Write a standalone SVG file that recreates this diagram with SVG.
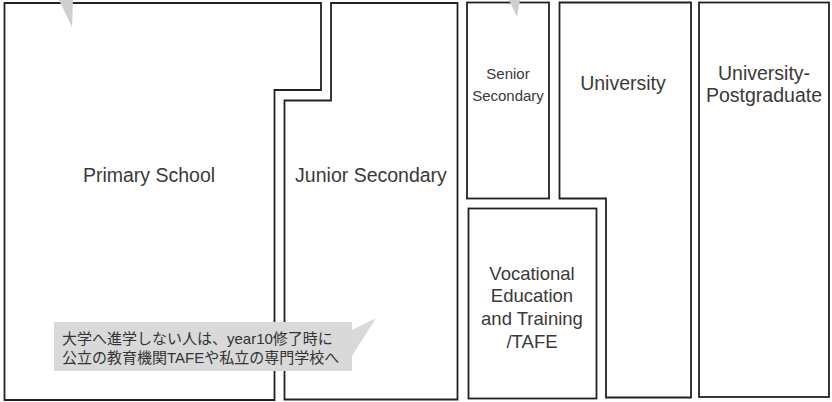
<svg xmlns="http://www.w3.org/2000/svg" width="832" height="402" viewBox="0 0 832 402">
<style>
.box{fill:#fff;stroke:#222;stroke-width:1.8;stroke-linejoin:miter}
.lbl{font-family:"Liberation Sans",Arial,sans-serif;fill:#3a3a3a;text-anchor:middle}
.big{font-size:19.5px}
.voc{font-size:18.5px}
.mid{font-size:15px}
.jp{font-family:"Liberation Sans","Noto Sans CJK JP",sans-serif;font-size:15px;fill:#333}
.tip{fill:#cfcfcf}
</style>
<rect width="832" height="402" fill="#fff"/>
<g id="primary">
<path class="box" d="M4.5,3 H321 V90 H274.5 V400 H4.5 Z"/>
<text class="lbl big" x="149" y="182">Primary School</text>
</g>
<g id="junior">
<path class="box" d="M331,3 H457.5 V399.5 H284.5 V100.5 H331 Z"/>
<text class="lbl big" x="371" y="182">Junior Secondary</text>
</g>
<g id="senior">
<rect class="box" x="467" y="2.5" width="82" height="196"/>
<text class="lbl mid" x="508" y="79">Senior</text>
<text class="lbl mid" x="508" y="101">Secondary</text>
</g>
<g id="vocational">
<rect class="box" x="468.5" y="208.5" width="128" height="190"/>
<text class="lbl voc" x="532" y="280">Vocational</text>
<text class="lbl voc" x="532" y="302">Education</text>
<text class="lbl voc" x="532" y="325">and Training</text>
<text class="lbl voc" x="532" y="348">/TAFE</text>
</g>
<g id="university">
<path class="box" d="M559.5,2.5 H691 V397.5 H606 V198.5 H559.5 Z"/>
<text class="lbl big" x="623" y="90">University</text>
</g>
<g id="postgraduate">
<rect class="box" x="699" y="2.5" width="130" height="394.5"/>
<text class="lbl big" x="764" y="80">University-</text>
<text class="lbl big" x="764" y="102">Postgraduate</text>
</g>
<g id="connectors">
<polygon class="tip" points="59,0 73,0 72,27"/>
<polygon class="tip" points="509,0 520,0 517,17"/>
</g>
<g id="callout">
<path fill="#d9d9d9" d="M54,322 H352 V330 L376,318 L352,356 V371 H54 Z"/>
<text class="jp" x="62" y="344">大学へ進学しない人は、year10修了時に</text>
<text class="jp" x="62" y="363">公立の教育機関TAFEや私立の専門学校へ</text>
</g>
</svg>
